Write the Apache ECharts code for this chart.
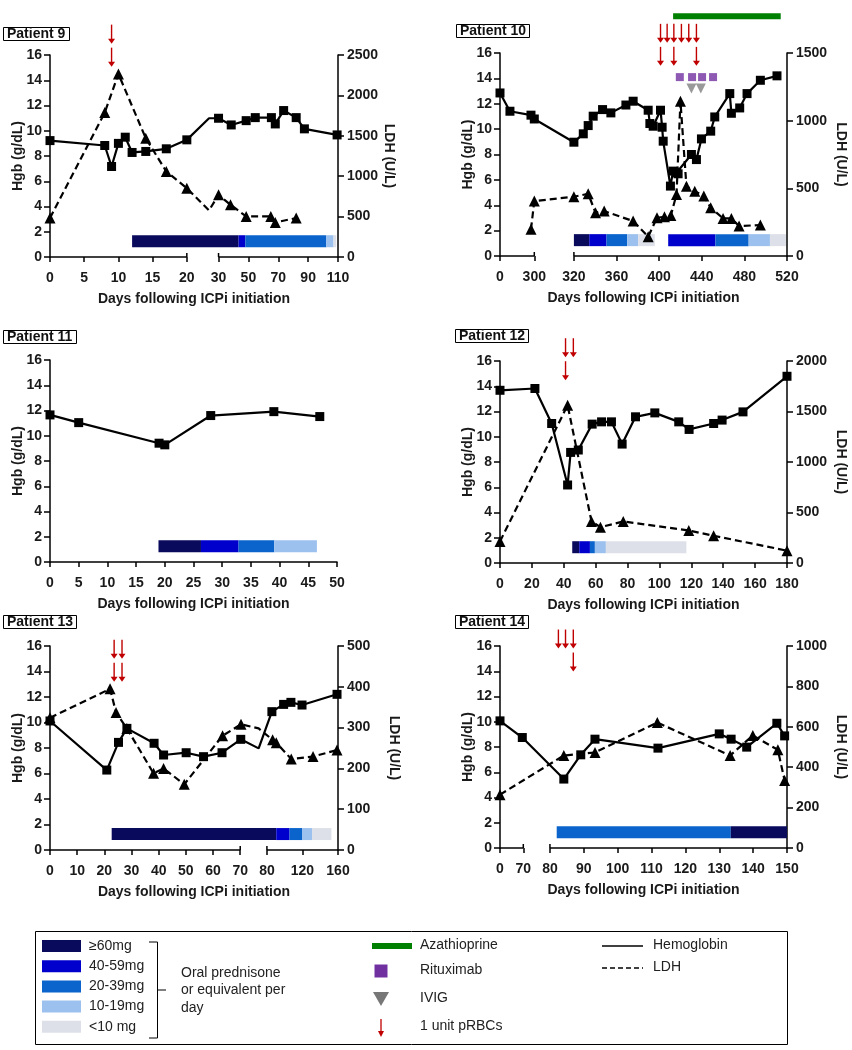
<!DOCTYPE html>
<html>
<head>
<meta charset="utf-8">
<script src="https://cdn.jsdelivr.net/npm/echarts@6/dist/echarts.min.js"></script>
<style>
  html, body { margin: 0; background: #fff; }
  #chart { width: 852px; height: 1050px; }
</style>
</head>
<body>
<div id="chart"></div>
<script>
// prednisone dose classes (index used in the *Pred arrays)
const doseLabels = ['≥60mg', '40-59mg', '20-39mg', '10-19mg', '<10 mg']
const doseColors = ['#0a0a5c', '#0000cc', '#0a64cc', '#9cc1ee', '#dde0e8']

// Patient 9
const p9HgbDays = [0, 8, 9, 10, 11, 12, 14, 17, 20, 27, 30, 38.5, 48.5, 54.6, 65.4, 68, 73.6, 82, 87.5, 109.4]
const p9Hgb = [9.22, 8.83, 7.17, 9.0, 9.49, 8.28, 8.36, 8.57, 9.28, 10.99, 10.99, 10.46, 10.8, 11.04, 11.04, 10.54, 11.6, 11.04, 10.15, 9.67]
const p9LdhDays = [0, 8, 10, 14, 17, 20, 27, 30, 38, 48.5, 65, 68, 82]
const p9Ldh = [482, 1787, 2265, 1470, 1058, 852, 576, 770, 647, 502, 502, 428, 482]
const p9BreakDays = [27] // points inside the axis break, drawn without marker
const p9Rbc = [9, 9]
const p9Pred = [[12, 43.4, 0], [43.4, 47.9, 1], [47.9, 102.2, 2], [102.2, 107, 3], [107, 108.8, 4]]

// Patient 10
const p10HgbDays = [0, 87, 271, 300, 320, 328.8, 333.4, 338.1, 346.9, 354.7, 368.8, 375.6, 389.7, 391.3, 394.4, 401.3, 402.8, 403.8, 410.6, 413.1, 416.3, 417.8, 430.3, 435, 439.7, 448.4, 452.2, 466.3, 467.8, 475.6, 482.5, 495, 510.6]
const p10Hgb = [12.85, 11.41, 11.1, 10.8, 8.97, 9.63, 10.28, 11.02, 11.54, 11.28, 11.9, 12.2, 11.49, 10.44, 10.23, 11.49, 10.15, 9.05, 5.51, 6.69, 6.56, 6.48, 8.0, 7.6, 9.23, 9.84, 10.96, 12.8, 11.25, 11.67, 12.8, 13.85, 14.2]
const p10LdhDays = [271, 300, 320, 333.4, 340.3, 348.4, 375.6, 389.7, 398, 405, 411, 416.3, 420, 425.6, 433.4, 441.9, 448.4, 460, 467.8, 475, 495]
const p10Ldh = [197, 406, 438, 460, 320, 332, 258, 143, 283, 290, 300, 455, 1143, 516, 479, 443, 357, 278, 278, 221, 229]
const p10Rbc = [401.3, 401.3, 407.5, 413.8, 413.8, 420.9, 427.8, 435, 435]
const p10Rituximab = [419.4, 430.9, 440.3, 450.6]
const p10Ivig = [430.3, 439.1]
const p10Azathioprine = [413.1, 514.1]
const p10Pred = [[320, 334.4, 0], [334.4, 350.6, 1], [350.6, 370, 2], [370, 380.3, 3], [380.3, 395.9, 4],
  [408.5, 452.8, 1], [452.8, 484, 2], [484, 504, 3], [504, 519, 4]]

// Patient 11
const p11HgbDays = [0, 5, 19, 20, 28, 39, 47]
const p11Hgb = [11.65, 11.04, 9.41, 9.28, 11.6, 11.91, 11.52]
const p11Pred = [[18.9, 26.3, 0], [26.3, 32.85, 1], [32.85, 39.07, 2], [39.07, 46.5, 3]]

// Patient 12
const p12HgbDays = [0, 21.9, 32.4, 42.4, 44.3, 49.1, 57.8, 63.7, 69.9, 76.6, 85, 97.1, 112.1, 118.6, 134, 139.3, 152.4, 180]
const p12Hgb = [13.68, 13.82, 11.05, 6.18, 8.76, 8.95, 11.0, 11.18, 11.18, 9.42, 11.58, 11.89, 11.18, 10.58, 11.05, 11.32, 11.97, 14.79]
const p12LdhDays = [0, 42.4, 57.4, 63, 77.3, 118.4, 134, 180]
const p12Ldh = [214, 1562, 411, 355, 411, 322, 270, 122]
const p12Rbc = [41.1, 41.1, 46]
const p12Pred = [[45.3, 49.7, 0], [49.7, 56.4, 1], [56.4, 59.5, 2], [59.5, 66.4, 3], [66.4, 116.9, 4]]

// Patient 13
const p13HgbDays = [0, 20.9, 25.2, 28.3, 38.3, 41.8, 50.1, 56.5, 63.3, 70.2, 76.9, 85.6, 98.8, 107, 119.5, 158.9]
const p13Hgb = [10.12, 6.27, 8.44, 9.54, 8.37, 7.45, 7.63, 7.32, 7.63, 8.68, 7.97, 10.85, 11.42, 11.58, 11.37, 12.21]
const p13LdhDays = [0, 22.1, 24.3, 28.3, 38.1, 41.8, 49.4, 63.5, 70.3, 76.9, 86.4, 90.5, 107.4, 131.9, 158.9]
const p13Ldh = [324, 395, 337, 298, 188, 200, 161, 280, 308, 298, 270, 263, 223, 229, 245]
const p13BreakDays = [76.9]
const p13Rbc = [23.6, 23.6, 26.5, 26.5]
const p13Pred = [[22.7, 90.5, 0], [90.5, 105.5, 1], [105.5, 119.5, 2], [119.5, 130.8, 3], [130.8, 152.6, 4]]

// Patient 14
const p14HgbDays = [0, 67, 84.1, 89.1, 93.3, 111.9, 130, 133.5, 138.1, 147, 149.3]
const p14Hgb = [10.07, 8.75, 5.46, 7.38, 8.62, 7.91, 9.04, 8.62, 7.99, 9.88, 8.88]
const p14LdhDays = [0, 84.1, 93.3, 111.7, 133.2, 139.9, 147.3, 149.3]
const p14Ldh = [264, 458, 473, 621, 458, 557, 486, 334]
const p14Rbc = [82.5, 84.6, 86.9, 86.9]
const p14Pred = [[82, 133.4, 2], [133.4, 150, 0]]

const FONT = '"Liberation Sans", Arial, sans-serif'
const AXIS_TEXT = { fontFamily: FONT, fontSize: 14, fontWeight: 'bold', color: '#1a1a1a' }
const AXIS_LINE = { color: '#000', width: 1.5 }

// anchors: [day, position 0..100] – piecewise linear, lets the axis carry breaks
const panels = [
  {
    name: 'Patient 9', title: [3, 27], grid: { left: 50, top: 55, width: 288, height: 202 },
    anchors: [[0, 0], [20, 47.51], [30, 58.52], [110, 100]], pieces: [[0, 20], [30, 110]],
    ticks: [0, 5, 10, 15, 20, 30, 50, 70, 90, 110],
    ldhMax: 2500, ldhStep: 500, ldhGap: 44,
    hgbDays: p9HgbDays, hgb: p9Hgb, ldhDays: p9LdhDays, ldh: p9Ldh, hidden: p9BreakDays,
    rbc: p9Rbc, rbcTip: 16.9, pred: p9Pred
  },
  {
    name: 'Patient 10', title: [456, 24], grid: { left: 500, top: 53, width: 287, height: 203 },
    anchors: [[0, 0], [300, 11.95], [320, 25.75], [520, 100]], pieces: [[0, 300], [320, 520]],
    ticks: [0, 300, 320, 360, 400, 440, 480, 520],
    ldhMax: 1500, ldhStep: 500, ldhGap: 47,
    hgbDays: p10HgbDays, hgb: p10Hgb, ldhDays: p10LdhDays, ldh: p10Ldh, hidden: [],
    rbc: p10Rbc, rbcTip: 16.8, pred: p10Pred,
    extras: { rituximab: p10Rituximab, ritLevel: 14.1, ivig: p10Ivig, ivigLevel: 13.2, aza: p10Azathioprine, azaLevel: 18.9 }
  },
  {
    name: 'Patient 11', title: [3, 330], grid: { left: 50, top: 360, width: 287, height: 202 },
    anchors: [[0, 0], [50, 100]], pieces: null,
    ticks: [0, 5, 10, 15, 20, 25, 30, 35, 40, 45, 50],
    ldhMax: null,
    hgbDays: p11HgbDays, hgb: p11Hgb, ldhDays: [], ldh: [], hidden: [],
    rbc: [], rbcTip: 16, pred: p11Pred
  },
  {
    name: 'Patient 12', title: [455, 329], grid: { left: 500, top: 361, width: 287, height: 202 },
    anchors: [[0, 0], [180, 100]], pieces: null,
    ticks: [0, 20, 40, 60, 80, 100, 120, 140, 160, 180],
    ldhMax: 2000, ldhStep: 500, ldhGap: 47,
    hgbDays: p12HgbDays, hgb: p12Hgb, ldhDays: p12LdhDays, ldh: p12Ldh, hidden: [],
    rbc: p12Rbc, rbcTip: 16.3, pred: p12Pred
  },
  {
    name: 'Patient 13', title: [3, 615], grid: { left: 50, top: 646, width: 288, height: 204 },
    anchors: [[0, 0], [70, 66.05], [80, 75.32], [160, 100]], pieces: [[0, 70], [80, 160]],
    ticks: [0, 10, 20, 30, 40, 50, 60, 70, 80, 120, 160],
    ldhMax: 500, ldhStep: 100, ldhGap: 49,
    hgbDays: p13HgbDays, hgb: p13Hgb, ldhDays: p13LdhDays, ldh: p13Ldh, hidden: p13BreakDays,
    rbc: p13Rbc, rbcTip: 15.0, pred: p13Pred
  },
  {
    name: 'Patient 14', title: [455, 615], grid: { left: 500, top: 646, width: 287, height: 202 },
    anchors: [[0, 0], [70, 8.12], [80, 17.4], [150, 100]], pieces: [[0, 70], [80, 150]],
    ticks: [0, 70, 80, 90, 100, 110, 120, 130, 140, 150],
    ldhMax: 1000, ldhStep: 200, ldhGap: 47,
    hgbDays: p14HgbDays, hgb: p14Hgb, ldhDays: p14LdhDays, ldh: p14Ldh, hidden: [],
    rbc: p14Rbc, rbcTip: 15.8, pred: p14Pred
  }
]

function brokenScale(anchors) {
  return d => {
    for (let i = 1; i < anchors.length; i++) {
      const [d0, p0] = anchors[i - 1]
      const [d1, p1] = anchors[i]
      if (d <= d1 || i === anchors.length - 1) {
        return p0 + (d - d0) * (p1 - p0) / (d1 - d0)
      }
    }
  }
}

const option = {
  animation: false,
  backgroundColor: '#fff',
  title: [],
  grid: [],
  xAxis: [],
  yAxis: [],
  series: [],
  graphic: []
}

panels.forEach((p, i) => {
  const mapX = brokenScale(p.anchors)
  const tickPos = p.ticks.map(mapX)
  const leftY = option.yAxis.length
  const rightY = leftY + 1

  option.title.push({
    text: p.name, left: p.title[0], top: p.title[1],
    borderWidth: 1, borderColor: '#000', padding: [0, 4],
    textStyle: { fontFamily: FONT, fontSize: 14, fontWeight: 'bold', color: '#111' }
  })
  option.grid.push(p.grid)

  option.xAxis.push({
    gridIndex: i, type: 'value', min: 0, max: 100,
    name: 'Days following ICPi initiation', nameLocation: 'middle', nameGap: 35,
    nameTextStyle: AXIS_TEXT,
    axisLine: { show: !p.pieces, onZero: false, lineStyle: AXIS_LINE },
    axisTick: { show: true, customValues: tickPos, length: 5, lineStyle: AXIS_LINE },
    axisLabel: {
      customValues: tickPos, margin: 14, ...AXIS_TEXT,
      formatter: v => {
        let best = 0
        tickPos.forEach((t, k) => { if (Math.abs(t - v) < Math.abs(tickPos[best] - v)) best = k })
        return String(p.ticks[best])
      }
    },
    splitLine: { show: false }
  })

  option.yAxis.push({
    gridIndex: i, type: 'value', min: 0, max: 16, interval: 2, position: 'left',
    name: 'Hgb (g/dL)', nameLocation: 'middle', nameGap: 25, nameMoveOverlap: false, nameTextStyle: AXIS_TEXT,
    axisLine: { show: true, lineStyle: AXIS_LINE },
    axisTick: { show: true, length: 6, lineStyle: AXIS_LINE },
    axisLabel: { margin: 8, ...AXIS_TEXT },
    splitLine: { show: false }
  })
  if (p.ldhMax) {
    option.yAxis.push({
      gridIndex: i, type: 'value', min: 0, max: p.ldhMax, interval: p.ldhStep, position: 'right',
      name: 'LDH (U/L)', nameLocation: 'middle', nameRotate: -90, nameGap: p.ldhGap, nameTextStyle: AXIS_TEXT,
      axisLine: { show: true, lineStyle: AXIS_LINE },
      axisTick: { show: true, length: 6, lineStyle: AXIS_LINE },
      axisLabel: { margin: 9, ...AXIS_TEXT, formatter: v => String(v) },
      splitLine: { show: false }
    })
  } else {
    option.yAxis.push({ gridIndex: i, type: 'value', min: 0, max: 1, show: false, position: 'right' })
  }

  // x axis drawn in pieces where the scale is broken
  if (p.pieces) {
    const n = p.pieces.length
    option.series.push({
      type: 'custom', xAxisIndex: i, yAxisIndex: leftY, silent: true, clip: false, z: 1,
      data: p.pieces.map(([a, b]) => [mapX(a), mapX(b)]),
      encode: { x: [0, 1] },
      renderItem: (params, api) => {
        const a = api.coord([api.value(0), 0])
        const b = api.coord([api.value(1), 0])
        const kids = [{ type: 'line', shape: { x1: a[0], y1: a[1], x2: b[0], y2: b[1] }, style: { stroke: '#000', lineWidth: 1.5 } }]
        if (params.dataIndex > 0) kids.push({ type: 'line', shape: { x1: a[0], y1: a[1] - 4, x2: a[0], y2: a[1] }, style: { stroke: '#000', lineWidth: 1.5 } })
        if (params.dataIndex < n - 1) kids.push({ type: 'line', shape: { x1: b[0], y1: b[1] - 4, x2: b[0], y2: b[1] }, style: { stroke: '#000', lineWidth: 1.5 } })
        return { type: 'group', children: kids }
      }
    })
  }

  // prednisone dose bar
  option.series.push({
    type: 'custom', xAxisIndex: i, yAxisIndex: leftY, silent: true, z: 2,
    data: p.pred.map(([s, e, k]) => [mapX(s), mapX(e), k]),
    encode: { x: [0, 1] },
    renderItem: (params, api) => {
      const a = api.coord([api.value(0), 1.25])
      const b = api.coord([api.value(1), 1.25])
      return {
        type: 'rect',
        shape: { x: a[0], y: a[1] - 6, width: b[0] - a[0], height: 12 },
        style: { fill: doseColors[api.value(2)] }
      }
    }
  })

  if (p.ldhDays.length) {
    option.series.push({
      name: 'LDH', type: 'line', xAxisIndex: i, yAxisIndex: rightY, z: 3,
      data: p.ldhDays.map((d, k) => ({ value: [mapX(d), p.ldh[k]], symbol: p.hidden.includes(d) ? 'none' : 'triangle' })),
      symbol: 'triangle', symbolSize: 11,
      itemStyle: { color: '#000' },
      lineStyle: { color: '#000', width: 2.2, type: [7, 4] }
    })
  }
  option.series.push({
    name: 'Hemoglobin', type: 'line', xAxisIndex: i, yAxisIndex: leftY, z: 4,
    data: p.hgbDays.map((d, k) => ({ value: [mapX(d), p.hgb[k]], symbol: p.hidden.includes(d) ? 'none' : 'rect' })),
    symbol: 'rect', symbolSize: 9,
    itemStyle: { color: '#000' },
    lineStyle: { color: '#000', width: 2.2 }
  })

  // 1 unit pRBCs each; units given on the same day stack downward
  if (p.rbc.length) {
    const seen = {}
    const rbcData = p.rbc.map(d => {
      seen[d] = (seen[d] || 0) + 1
      return [mapX(d), seen[d] - 1]
    })
    option.series.push({
      type: 'custom', xAxisIndex: i, yAxisIndex: leftY, silent: true, clip: false, z: 5,
      data: rbcData,
      encode: { x: 0 },
      renderItem: (params, api) => {
        const c = api.coord([api.value(0), p.rbcTip])
        const x = c[0]
        const tip = c[1] + api.value(1) * 23
        return {
          type: 'group',
          children: [
            { type: 'line', shape: { x1: x, y1: tip - 19, x2: x, y2: tip - 4 }, style: { stroke: '#c00000', lineWidth: 1.4 } },
            { type: 'polygon', shape: { points: [[x - 3.5, tip - 5], [x + 3.5, tip - 5], [x, tip]] }, style: { fill: '#c00000' } }
          ]
        }
      }
    })
  }

  if (p.extras) {
    const ex = p.extras
    option.series.push({
      name: 'Rituximab', type: 'scatter', xAxisIndex: i, yAxisIndex: leftY, z: 5,
      data: ex.rituximab.map(d => [mapX(d), ex.ritLevel]),
      symbol: 'rect', symbolSize: 8, itemStyle: { color: '#7030a0' }
    })
    option.series.push({
      name: 'IVIG', type: 'scatter', xAxisIndex: i, yAxisIndex: leftY, z: 5,
      data: ex.ivig.map(d => [mapX(d), ex.ivigLevel]),
      symbol: 'triangle', symbolRotate: 180, symbolSize: 10, itemStyle: { color: '#808080' }
    })
    option.series.push({
      name: 'Azathioprine', type: 'line', xAxisIndex: i, yAxisIndex: leftY, clip: false, z: 5,
      data: ex.aza.map(d => [mapX(d), ex.azaLevel]),
      symbol: 'none', lineStyle: { color: '#008000', width: 6 }
    })
  }
})

// legend panel
const LEG_TEXT = { font: '14px ' + FONT, fill: '#222', verticalAlign: 'middle' }
const legend = [
  { type: 'rect', shape: { x: 35.5, y: 931.5, width: 752, height: 113 }, style: { fill: 'none', stroke: '#000', lineWidth: 1 } }
]
doseLabels.forEach((lab, k) => {
  const cy = 946 + k * 20.2
  legend.push({ type: 'rect', shape: { x: 42, y: cy - 6, width: 39, height: 12 }, style: { fill: doseColors[k] } })
  legend.push({ type: 'text', style: { text: lab, x: 89, y: cy, ...LEG_TEXT } })
})
legend.push(
  { type: 'polyline', shape: { points: [[149, 942], [157.5, 942], [157.5, 1038], [149, 1038]] }, style: { stroke: '#000', lineWidth: 1, fill: 'none' } },
  { type: 'line', shape: { x1: 157.5, y1: 990, x2: 166, y2: 990 }, style: { stroke: '#000', lineWidth: 1 } },
  { type: 'text', style: { text: 'Oral prednisone', x: 181, y: 973, ...LEG_TEXT } },
  { type: 'text', style: { text: 'or equivalent per', x: 181, y: 990.5, ...LEG_TEXT } },
  { type: 'text', style: { text: 'day', x: 181, y: 1008, ...LEG_TEXT } },
  { type: 'line', shape: { x1: 372, y1: 946, x2: 412, y2: 946 }, style: { stroke: '#008000', lineWidth: 6 } },
  { type: 'text', style: { text: 'Azathioprine', x: 420, y: 945, ...LEG_TEXT } },
  { type: 'rect', shape: { x: 374.5, y: 964.5, width: 13, height: 13 }, style: { fill: '#7030a0' } },
  { type: 'text', style: { text: 'Rituximab', x: 420, y: 970, ...LEG_TEXT } },
  { type: 'polygon', shape: { points: [[373, 992], [389, 992], [381, 1006]] }, style: { fill: '#777' } },
  { type: 'text', style: { text: 'IVIG', x: 420, y: 998, ...LEG_TEXT } },
  { type: 'line', shape: { x1: 381, y1: 1019, x2: 381, y2: 1032 }, style: { stroke: '#c00000', lineWidth: 1.3 } },
  { type: 'polygon', shape: { points: [[378, 1031], [384, 1031], [381, 1037]] }, style: { fill: '#c00000' } },
  { type: 'text', style: { text: '1 unit pRBCs', x: 420, y: 1026, ...LEG_TEXT } },
  { type: 'line', shape: { x1: 602, y1: 946, x2: 643, y2: 946 }, style: { stroke: '#000', lineWidth: 1.3 } },
  { type: 'text', style: { text: 'Hemoglobin', x: 653, y: 945, ...LEG_TEXT } },
  { type: 'line', shape: { x1: 602, y1: 968, x2: 643, y2: 968 }, style: { stroke: '#000', lineWidth: 1.3, lineDash: [5, 3] } },
  { type: 'text', style: { text: 'LDH', x: 653, y: 967, ...LEG_TEXT } }
)
option.graphic = legend

const chart = echarts.init(document.getElementById('chart'))
chart.setOption(option)
</script>
</body>
</html>
